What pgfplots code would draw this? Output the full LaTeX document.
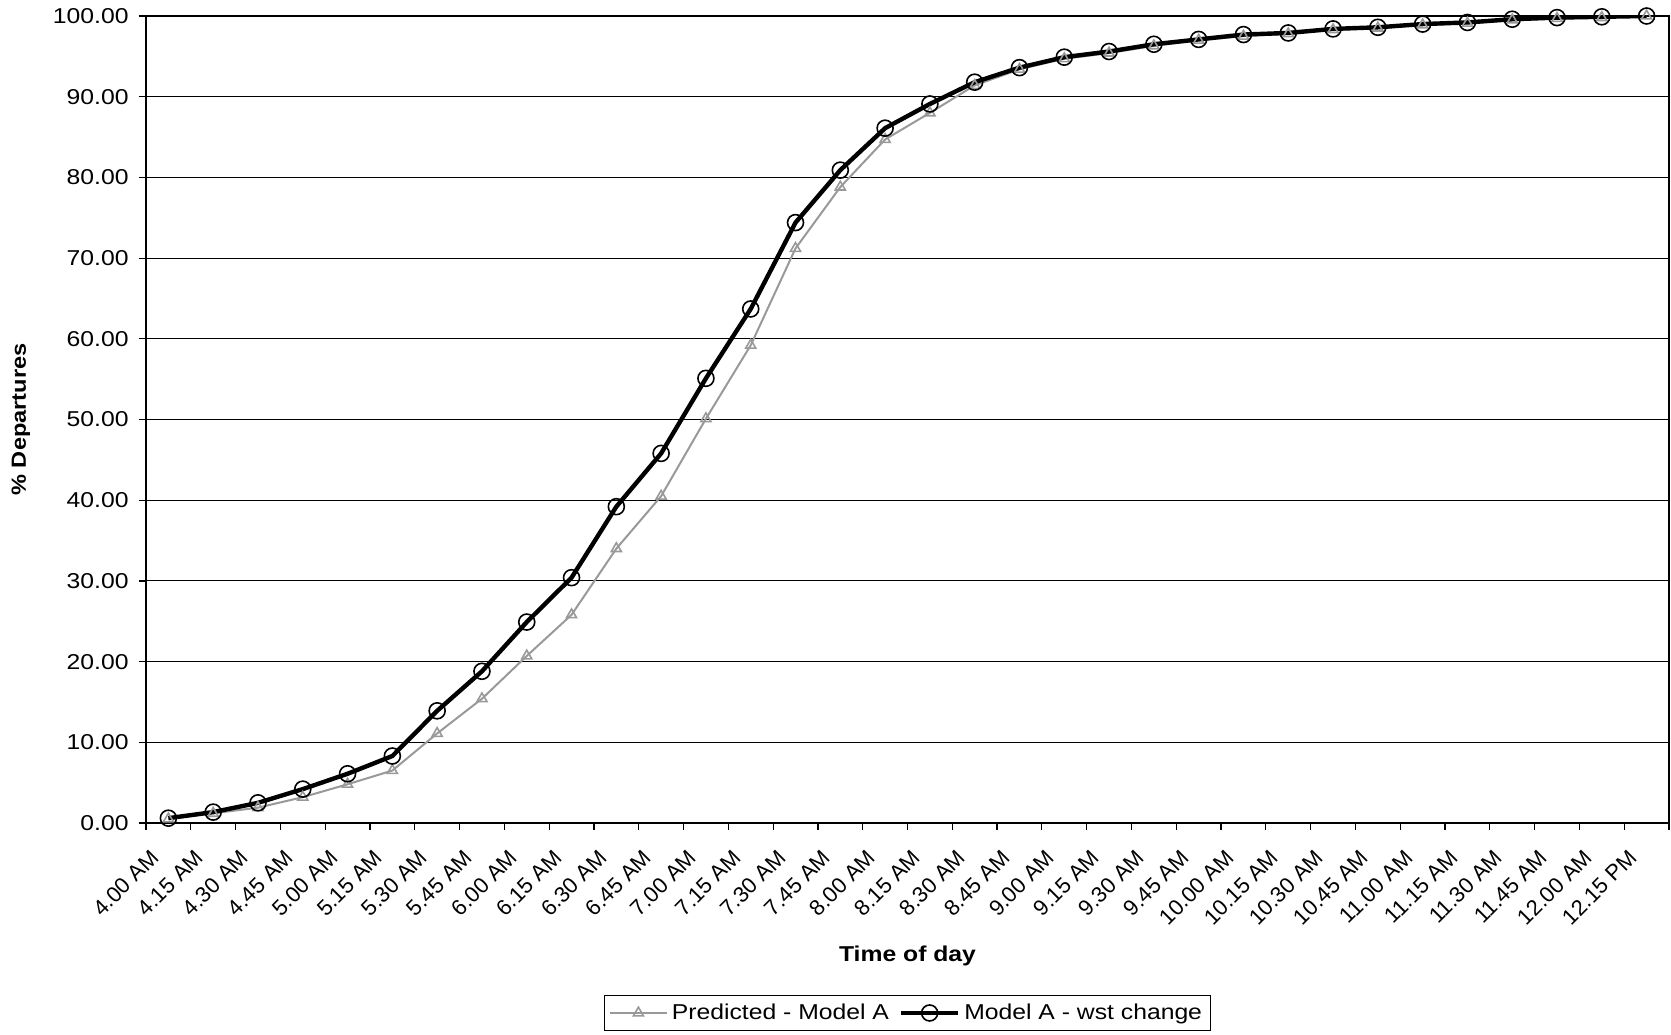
\documentclass[border=0pt]{standalone}
\usepackage{pgfplots}
\pgfplotsset{compat=1.18}
\usepackage{pgfplotstable}
\usepackage{fontspec}
\setmainfont[FakeStretch=1.15]{Liberation Sans}
\newfontfamily\ticklabelfont{Liberation Sans}

\definecolor{predgray}{RGB}{153,153,153}

% Cumulative share of departures by time of day (15-minute steps)
\pgfplotstableread{
idx pred  wst
0   0.5   0.6
1   1.2   1.35
2   1.9   2.5
3   3.2   4.2
4   4.8   6.1
5   6.5   8.3
6   11.1  13.9
7   15.4  18.8
8   20.7  24.9
9   25.8  30.4
10  34.0  39.2
11  40.5  45.8
12  50.1  55.1
13  59.2  63.7
14  71.2  74.4
15  78.8  80.9
16  84.7  86.1
17  88.0  89.1
18  91.4  91.8
19  93.4  93.6
20  94.7  94.9
21  95.4  95.6
22  96.3  96.5
23  97.0  97.1
24  97.5  97.7
25  97.8  97.9
26  98.3  98.4
27  98.5  98.6
28  98.9  99.0
29  99.1  99.2
30  99.5  99.6
31  99.7  99.8
32  99.8  99.9
33  100.0 100.0
}\departures

\begin{document}
\begin{tikzpicture}
\useasboundingbox (-73pt,-105.5pt) rectangle (762.5pt,411.5pt);
\begin{axis}[
  scale only axis,
  width=761.5pt, height=403.5pt,
  xmin=-0.5, xmax=33.5,
  ymin=0, ymax=100,
  axis line style={line width=0.75pt, black},
  xtick pos=bottom, ytick pos=left,
  xtick={-0.5,0.5,...,33.5},
  x tick label as interval,
  xticklabels={4.00 AM,4.15 AM,4.30 AM,4.45 AM,5.00 AM,5.15 AM,5.30 AM,5.45 AM,
    6.00 AM,6.15 AM,6.30 AM,6.45 AM,7.00 AM,7.15 AM,7.30 AM,7.45 AM,8.00 AM,8.15 AM,
    8.30 AM,8.45 AM,9.00 AM,9.15 AM,9.30 AM,9.45 AM,10.00 AM,10.15 AM,10.30 AM,
    10.45 AM,11.00 AM,11.15 AM,11.30 AM,11.45 AM,12.00 AM,12.15 PM},
  ytick={0,10,...,100},
  tick align=outside,
  major tick length=3.7pt,
  tick style={line width=0.6pt, black},
  ymajorgrids,
  major grid style={line width=0.5pt, black},
  xticklabel style={xshift=-6pt, yshift=-11pt, rotate=45, anchor=east,
    font=\ticklabelfont\fontsize{11}{13}\selectfont, inner sep=1pt},
  yticklabel style={xshift=-1.5pt, font=\fontsize{10.75}{13}\selectfont,
    /pgf/number format/.cd, fixed, fixed zerofill, precision=2, assume math mode=true},
  xlabel={\textbf{Time of day}},
  xlabel style={at={(axis description cs:0.5,-0.1648)}, anchor=center,
    font=\fontsize{10.75}{13}\selectfont},
  ylabel={\textbf{\% Departures}},
  ylabel style={at={(axis description cs:-0.0821,0.5)}, anchor=center,
    font=\fontsize{10.25}{13}\selectfont},
  legend style={at={(axis description cs:0.5,-0.2354)}, anchor=center,
    draw=black, line width=0.5pt, legend columns=2, inner sep=2pt,
    font=\fontsize{10.75}{13}\selectfont,
    /tikz/every even column/.append style={column sep=3pt}},
  legend image code/.code={
    \draw[mark repeat=2, mark phase=2] plot coordinates {(0cm,0cm) (0.5cm,0cm) (1cm,0cm)};},
]
\addplot[color=predgray, line width=1pt, mark=triangle, mark size=2.9pt,
  mark options={line width=0.8pt, fill=none, solid}]
  table[x=idx, y=pred] {\departures};
\addlegendentry{Predicted - Model A}
\addplot[color=black, line width=2.2pt, mark=o, mark size=4pt,
  mark options={line width=0.8pt, fill=none, solid}]
  table[x=idx, y=wst] {\departures};
\addlegendentry{Model A - wst change}
\end{axis}
\end{tikzpicture}
\end{document}
